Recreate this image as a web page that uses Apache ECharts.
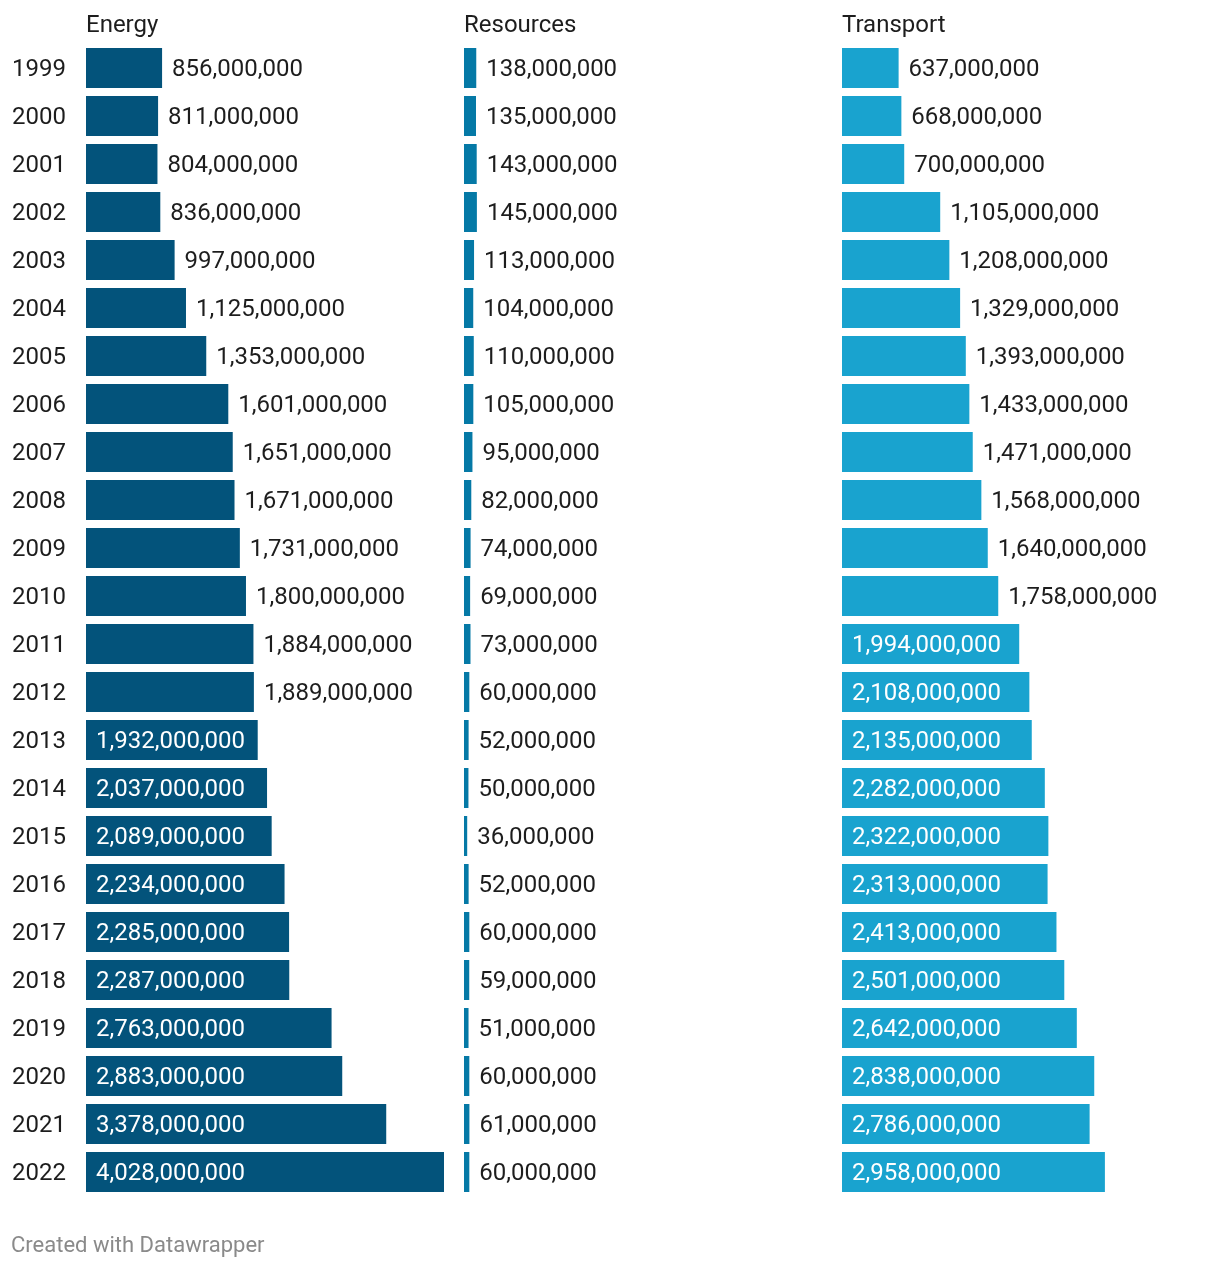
<!DOCTYPE html>
<html>
<head>
<meta charset="utf-8">
<script src="https://cdn.jsdelivr.net/npm/echarts@6/dist/echarts.min.js"></script>
<style>
html,body{margin:0;padding:0;background:#fff;}
#chart{width:1220px;height:1268px;}
</style>
</head>
<body>
<div id="chart"></div>
<script>
const years = ['1999','2000','2001','2002','2003','2004','2005','2006','2007','2008','2009','2010','2011','2012','2013','2014','2015','2016','2017','2018','2019','2020','2021','2022'];
const energy = [856e6,811e6,804e6,836e6,997e6,1125e6,1353e6,1601e6,1651e6,1671e6,1731e6,1800e6,1884e6,1889e6,1932e6,2037e6,2089e6,2234e6,2285e6,2287e6,2763e6,2883e6,3378e6,4028e6];
const resources = [138e6,135e6,143e6,145e6,113e6,104e6,110e6,105e6,95e6,82e6,74e6,69e6,73e6,60e6,52e6,50e6,36e6,52e6,60e6,59e6,51e6,60e6,61e6,60e6];
const transport = [637e6,668e6,700e6,1105e6,1208e6,1329e6,1393e6,1433e6,1471e6,1568e6,1640e6,1758e6,1994e6,2108e6,2135e6,2282e6,2322e6,2313e6,2413e6,2501e6,2642e6,2838e6,2786e6,2958e6];
const panelNames = ['Energy','Resources','Transport'];
const panelData = [energy, resources, transport];
const panelColors = ['#03537b','#0579a6','#19a3cf'];

const FONT = 'Roboto';
const FS = 24;
const TEXT = '#1d1d1d';
const lefts = [86, 464, 842];
const PW = 358;
const TOP = 44, H = 1152;
const MAX = 4028e6;

const chart = echarts.init(document.getElementById('chart'), null, {renderer:'canvas'});

const grids = lefts.map(l => ({left:l, top:TOP, width:PW, height:H, containLabel:false}));
// extra grid carrying only the year labels (nudged 2px down to sit on the text baseline of the value labels)
grids.push({left:lefts[0], top:TOP+2, width:PW, height:H, containLabel:false});

const xAxes = grids.map((g,i) => ({type:'value', gridIndex:i, min:0, max:MAX, show:false}));
const yAxes = grids.map((g,i) => ({
  type:'category', gridIndex:i, data:years, inverse:true,
  axisLine:{show:false}, axisTick:{show:false}, splitLine:{show:false},
  axisLabel: i===3 ? {show:true, align:'left', margin:74, color:TEXT, fontFamily:FONT, fontSize:FS} : {show:false}
}));

const fmt = v => Math.round(v).toLocaleString('en-US');

const series = panelData.map((arr,i) => ({
  type:'bar', xAxisIndex:i, yAxisIndex:i, barWidth:40,
  itemStyle:{color:panelColors[i]},
  silent:true,
  data: arr.map(v => {
    const inside = v >= 1.9e9;
    return {
      value:v,
      label:{
        show:true,
        position: inside ? 'insideLeft' : 'right',
        distance: 10,
        offset:[0,2],
        color: inside ? '#ffffff' : TEXT,
        fontFamily:FONT, fontSize:FS,
        formatter: p => fmt(p.value)
      }
    };
  })
}));

const graphics = panelNames.map((n,i) => ({
  type:'text', x:lefts[i], y:26,
  style:{text:n, fill:TEXT, font:`${FS}px ${FONT}`, textVerticalAlign:'middle', textAlign:'left'}
}));
graphics.push({
  type:'text', x:11, y:1246,
  style:{text:'Created with Datawrapper', fill:'#8a8a8a', font:`22px ${FONT}`, textVerticalAlign:'middle', textAlign:'left'}
});

chart.setOption({
  backgroundColor:'#ffffff',
  animation:false,
  grid:grids, xAxis:xAxes, yAxis:yAxes, series:series, graphic:graphics
});
</script>
</body>
</html>
